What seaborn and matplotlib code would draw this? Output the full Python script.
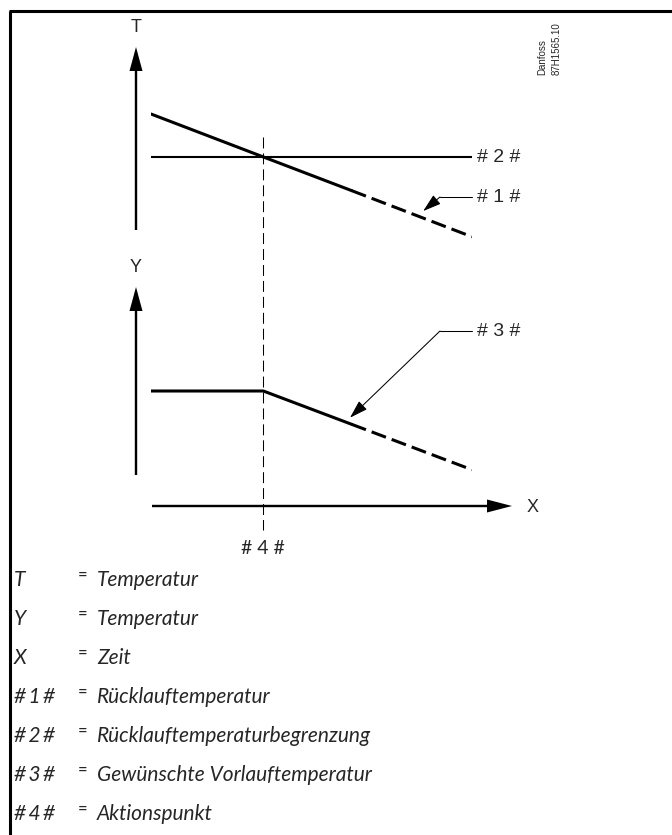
import matplotlib
matplotlib.use("Agg")
import matplotlib.pyplot as plt
import matplotlib.transforms as mtransforms
import seaborn as sns

sns.set_style("white")
plt.rcParams["font.family"] = ["Liberation Sans", "DejaVu Sans"]

# --- data (schematic units: time 0..10, temperature) ---
time_solid = [0, 3.5, 6.25]
time_dashed = [6.25, 10]
return_temp_solid = [60, 48, 38.6]
return_temp_dashed = [38.6, 25.7]
limit_time = [0, 10]
limit_temp = [48, 48]
flow_temp_solid = [55, 55, 45.7]
flow_temp_dashed = [45.7, 33]
action_time = 3.5

legend_keys = ["T", "Y", "X", "#\u20091\u2009#", "#\u20092\u2009#", "#\u20093\u2009#", "#\u20094\u2009#"]
legend_texts = [
    "Temperatur",
    "Temperatur",
    "Zeit",
    "Rücklauftemperatur",
    "Rücklauftemperaturbegrenzung",
    "Gewünschte Vorlauftemperatur",
    "Aktionspunkt",
]

W, H = 672, 835
fig = plt.figure(figsize=(W / 100, H / 100), dpi=100)

# background axes in pixel units for the drawing frame and labels
bg = fig.add_axes([0, 0, 1, 1])
bg.set_xlim(0, W)
bg.set_ylim(H, 0)
bg.axis("off")


def panel(x0, x1, y_top, y_bot):
    ax = fig.add_axes([x0 / W, 1 - y_bot / H, (x1 - x0) / W, (y_bot - y_top) / H])
    ax.set_xlim(0, 10)
    ax.set_ylim(20, 65)
    ax.axis("off")
    return ax


ax_top = panel(151, 472, 96.1, 257.2)
ax_low = panel(151, 472, 355.2, 516.3)

thick = 2.2
dash = (0, (5, 2))

# upper panel: return temperature and its limit
sns.lineplot(x=time_solid, y=return_temp_solid, ax=ax_top, color="black", lw=thick)
sns.lineplot(x=time_dashed, y=return_temp_dashed, ax=ax_top, color="black",
             lw=thick, linestyle=dash)
sns.lineplot(x=limit_time, y=limit_temp, ax=ax_top, color="black", lw=1.5)

# lower panel: desired flow temperature
sns.lineplot(x=time_solid, y=flow_temp_solid, ax=ax_low, color="black", lw=thick)
sns.lineplot(x=time_dashed, y=flow_temp_dashed, ax=ax_low, color="black",
             lw=thick, linestyle=dash)

# action point (vertical dashed line through both panels)
blend = mtransforms.blended_transform_factory(ax_low.transData, bg.transData)
bg.plot([action_time, action_time], [137, 530], transform=blend, color="black",
        lw=0.75, linestyle=(0, (10.5, 4.8)))
bg.text(action_time, 548, "# 4 #", transform=blend, ha="center", va="center",
        fontsize=14, family="Lato")

# axis arrows
arrow_kw = dict(width=2.4, head_width=13, head_length=24, length_includes_head=True,
                color="black", lw=0)
bg.arrow(136, 230, 0, -183, **arrow_kw)
bg.arrow(136, 475, 0, -188, **arrow_kw)
bg.arrow(152, 506, 360, 0, **dict(arrow_kw, head_width=13, head_length=25))
bg.text(136, 27, "T", ha="center", va="center", fontsize=13)
bg.text(136, 268, "Y", ha="center", va="center", fontsize=13)
bg.text(533, 507, "X", ha="center", va="center", fontsize=13)

# callouts
bg.text(477, 157, "# 2 #", ha="left", va="center", fontsize=14)
bg.text(477, 197, "# 1 #", ha="left", va="center", fontsize=14)
bg.text(477, 331, "# 3 #", ha="left", va="center", fontsize=14)
bg.plot([440, 472], [197, 197], color="black", lw=0.75)
bg.plot([440, 472], [331, 331], color="black", lw=0.75)
lead = dict(arrowstyle="-|>,head_length=0.8,head_width=0.25", color="black",
            lw=0.75, mutation_scale=14, shrinkA=0)
ax_top.annotate("", xy=(8.3, 31.55), xytext=(440, 197), textcoords=bg.transData,
                arrowprops=dict(lead, shrinkB=5.4))
ax_low.annotate("", xy=(6.06, 46.33), xytext=(440, 331), textcoords=bg.transData,
                arrowprops=dict(lead, shrinkB=4.5))

# drawing number
bg.text(542, 75, "Danfoss", rotation=90, ha="center", va="bottom", fontsize=7)
bg.text(557, 75, "87H1565.10", rotation=90, ha="center", va="bottom", fontsize=7)

# frame
bg.plot([9, W], [11, 11], color="black", lw=2.2, solid_capstyle="butt")
bg.plot([10, 10], [11, H], color="black", lw=2.2, solid_capstyle="butt")

# legend
for i, (key, txt) in enumerate(zip(legend_keys, legend_texts)):
    y = 580 + i * 39
    bg.text(14, y, key, ha="left", va="center", fontsize=15,
            family=["Lato", "DejaVu Sans"], style="italic")
    bg.text(83, y - 5, "=", ha="center", va="center", fontsize=12, family="Lato")
    bg.text(97, y, txt, ha="left", va="center", fontsize=15, family="Lato",
            style="italic")

fig.savefig("out.png", dpi=100)
